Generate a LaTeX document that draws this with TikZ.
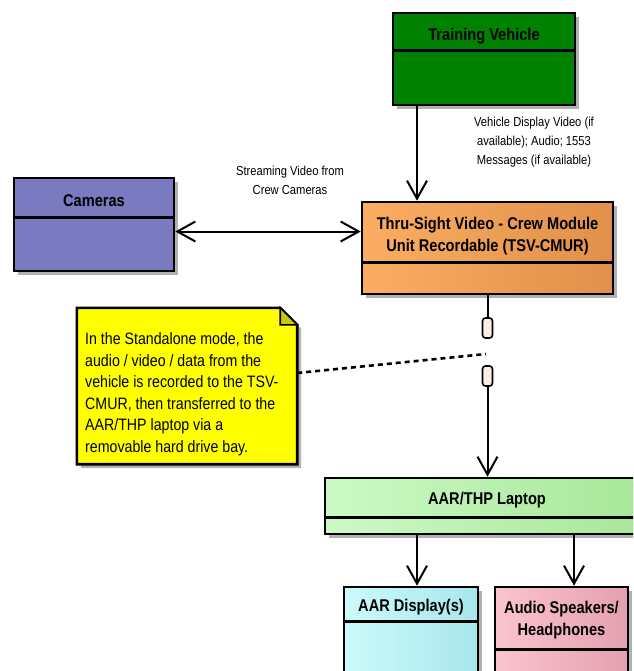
\documentclass[tikz,border=0pt]{standalone}
\usepackage{fontspec}
\setmainfont{Liberation Sans}[FakeStretch=0.86]
\usepackage{tikz}
\usetikzlibrary{positioning, arrows.meta, shadows}

\definecolor{vehiclegreen}{RGB}{0,130,0}
\definecolor{camerablue}{RGB}{122,122,192}
\definecolor{tsvorangeL}{RGB}{251,174,98}
\definecolor{tsvorangeR}{RGB}{224,144,74}
\definecolor{laptopL}{RGB}{204,250,198}
\definecolor{laptopR}{RGB}{165,230,150}
\definecolor{displayL}{RGB}{204,250,250}
\definecolor{displayR}{RGB}{168,230,236}
\definecolor{audioL}{RGB}{250,196,206}
\definecolor{audioR}{RGB}{228,160,176}
\definecolor{noteyellow}{RGB}{255,255,0}
\definecolor{notefold}{RGB}{200,200,20}
\definecolor{plugfill}{RGB}{250,240,225}

\begin{document}
\begin{tikzpicture}[
			x=1pt, y=-1pt,
			classbox/.style={draw, line width=2.6pt, inner sep=0pt,
				drop shadow={shadow xshift=4pt, shadow yshift=-4pt, fill=black!30, opacity=1}},
			boxtitle/.style={font=\bfseries\fontsize{17}{22}\selectfont, align=center, inner sep=0pt},
			flowlabel/.style={font=\fontsize{13}{19}\selectfont, align=center, inner sep=0pt},
			flow/.style={line width=2pt, -{Straight Barb[length=18pt, width=20pt, line width=2pt]}},
			twoway/.style={line width=2pt, {Straight Barb[length=18pt, width=20pt, line width=2pt]}-{Straight Barb[length=18pt, width=20pt, line width=2pt]}},
			plug/.style={draw, line width=1.6pt, fill=plugfill, rounded corners=3pt, minimum width=10pt, minimum height=20pt, inner sep=0pt}
			]
			\clip (0,0) rectangle (633,671);
			
			% --- Training Vehicle ---
			\node[classbox, fill=vehiclegreen, minimum width=182, minimum height=92] (vehicle) at (484,59) {};
			\draw[line width=2.6pt] ([yshift=-39pt]vehicle.north west) -- ([yshift=-39pt]vehicle.north east);
			\node[boxtitle] (vehicletitle) at (484,36) {Training Vehicle};
			\node[flowlabel] (vehiclelabel) at (534,142) {Vehicle Display Video (if\\available); Audio; 1553\\Messages (if available)};
			
			% --- Cameras ---
			\node[classbox, fill=camerablue, minimum width=160, minimum height=93] (cameras) at (94,224.5) {};
			\draw[line width=2.6pt] ([yshift=-41pt]cameras.north west) -- ([yshift=-41pt]cameras.north east);
			\node[boxtitle] (camerastitle) at (94,201) {Cameras};
			\node[flowlabel] (cameralabel) at (290,180) {Streaming Video from\\Crew Cameras};
			
			% --- TSV-CMUR ---
			\node[classbox, left color=tsvorangeL, right color=tsvorangeR, minimum width=251, minimum height=92] (tsv) at (487.5,248) {};
			\draw[line width=2.6pt] ([yshift=-62pt]tsv.north west) -- ([yshift=-62pt]tsv.north east);
			\node[boxtitle] (tsvtitle) at (487.5,236) {Thru-Sight Video - Crew Module\\Unit Recordable (TSV-CMUR)};
			
			% --- Note (yellow) ---
			\node[minimum width=220, minimum height=156, inner sep=0pt] (note) at (187,386) {};
			\fill[black!30] ([shift={(4pt,-4pt)}]note.north west) -- ([shift={(-13pt,-4pt)}]note.north east)
				-- ([shift={(4pt,-21pt)}]note.north east) -- ([shift={(4pt,-4pt)}]note.south east)
				-- ([shift={(4pt,-4pt)}]note.south west) -- cycle;
			\draw[line width=2.6pt, fill=noteyellow] (note.north west) -- ([xshift=-17pt]note.north east)
				-- ([yshift=-17pt]note.north east) -- (note.south east) -- (note.south west) -- cycle;
			\draw[line width=1.6pt, fill=notefold] ([xshift=-17pt]note.north east) -- ([xshift=-17pt, yshift=-17pt]note.north east)
				-- ([yshift=-17pt]note.north east) -- cycle;
			\node[font=\fontsize{16.5}{21.5}\selectfont, align=left, anchor=west, inner sep=0pt] (notetext) at (85,394)
				{In the Standalone mode, the\\audio / video / data from the\\vehicle is recorded to the TSV-\\CMUR, then transferred to the\\AAR/THP laptop via a\\removable hard drive bay.};
			
			% --- Plugs between TSV-CMUR and laptop ---
			\node[plug] (plugtop) at (487.5,328) {};
			\node[plug] (plugbottom) at (487.5,376) {};
			\coordinate (pluggap) at (486,354);
			
			% --- AAR/THP Laptop ---
			\node[classbox, left color=laptopL, right color=laptopR, minimum width=335, minimum height=56] (laptop) at (492.5,506) {};
			\draw[line width=2.6pt] ([yshift=-41pt]laptop.north west) -- ([yshift=-41pt]laptop.north east);
			\node[boxtitle] (laptoptitle) at (487,500) {AAR/THP Laptop};
			
			% --- Outputs ---
			\node[classbox, left color=displayL, right color=displayR, minimum width=134, minimum height=113] (display) at (411,643.5) {};
			\draw[line width=2.6pt] ([yshift=-36pt]display.north west) -- ([yshift=-36pt]display.north east);
			\node[boxtitle] (displaytitle) at (411,607) {AAR Display(s)};
			
			\node[classbox, left color=audioL, right color=audioR, minimum width=133, minimum height=113] (audio) at (561.5,643.5) {};
			\draw[line width=2.6pt] ([yshift=-64pt]audio.north west) -- ([yshift=-64pt]audio.north east);
			\node[boxtitle] (audiotitle) at (561.5,620) {Audio Speakers/\\Headphones};
			
			% --- Connectors ---
			\draw[flow] ([xshift=-67pt]vehicle.south) -- ([xshift=-67pt]vehicle.south |- tsv.north);
			\draw[twoway] ([yshift=-7pt]cameras.east) -- ([yshift=-7pt]cameras.east -| tsv.west);
			\draw[line width=2pt] (tsv.south) -- (plugtop.north);
			\draw[flow] (plugbottom.south) -- (plugbottom.south |- laptop.north);
			\draw[line width=2.6pt, dash pattern=on 5pt off 4pt] ([yshift=13pt]note.east) -- (pluggap);
			\draw[flow] ([xshift=-75.5pt]laptop.south) -- ([xshift=-75.5pt]laptop.south |- display.north);
			\draw[flow] ([xshift=81.5pt]laptop.south) -- ([xshift=81.5pt]laptop.south |- audio.north);
			
		\end{tikzpicture}
\end{document}
